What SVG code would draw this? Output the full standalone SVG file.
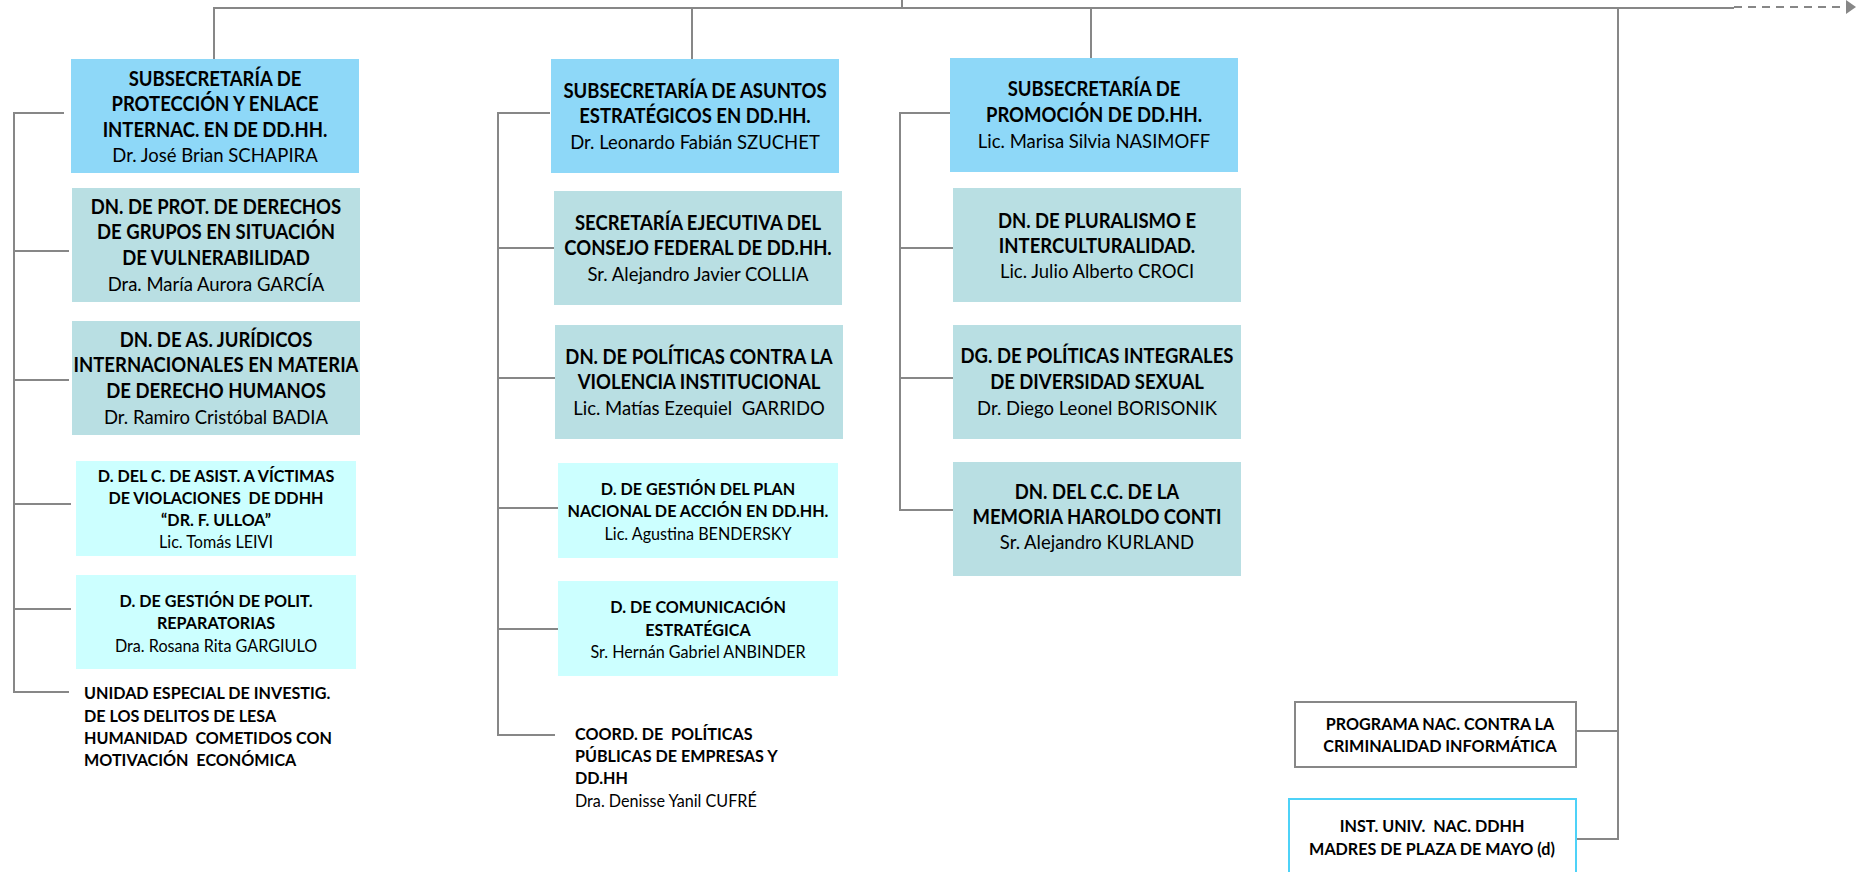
<svg xmlns="http://www.w3.org/2000/svg" width="1857" height="872" viewBox="0 0 1857 872">
<style>
.ln{stroke:#878787;stroke-width:2;fill:none}
.blue{fill:#8ED8F8}
.teal{fill:#B9DFE3}
.cyan{fill:#CCFFFF}
.wbox{fill:#FFFFFF;stroke:#878787;stroke-width:2}
.cbox{fill:#FFFFFF;stroke:#4DD2F8;stroke-width:2}
text{font-family:Lato,"Liberation Sans",sans-serif;fill:#000}
.c{text-anchor:middle}
.b{font-weight:bold}
.L{font-size:20px}
.S{font-size:17px}
</style>
<defs>
<marker id="arr" markerWidth="10" markerHeight="14" refX="9" refY="7" orient="auto" markerUnits="userSpaceOnUse">
<path d="M0,0 L10,7 L0,14 Z" fill="#878787"/>
</marker>
</defs>
<g id="connectors">
<line class="ln" x1="902" y1="0" x2="902" y2="8"/>
<line class="ln" x1="213" y1="8" x2="1734" y2="8"/>
<line class="ln" x1="1734" y1="7" x2="1855" y2="7" stroke-dasharray="8,6" marker-end="url(#arr)"/>
<line class="ln" x1="214" y1="8" x2="214" y2="59"/>
<line class="ln" x1="692" y1="8" x2="692" y2="59"/>
<line class="ln" x1="1091" y1="8" x2="1091" y2="58"/>
<polyline class="ln" points="1618,8 1618,839 1576,839"/>
<line class="ln" x1="1576" y1="731" x2="1618" y2="731"/>
<polyline class="ln" points="64,113 14,113 14,692 69,692"/>
<line class="ln" x1="14" y1="251" x2="69" y2="251"/>
<line class="ln" x1="14" y1="380" x2="69" y2="380"/>
<line class="ln" x1="14" y1="504" x2="71" y2="504"/>
<line class="ln" x1="14" y1="609" x2="71" y2="609"/>
<polyline class="ln" points="550,113 498,113 498,735 555,735"/>
<line class="ln" x1="498" y1="248" x2="554" y2="248"/>
<line class="ln" x1="498" y1="378" x2="555" y2="378"/>
<line class="ln" x1="498" y1="508" x2="558" y2="508"/>
<line class="ln" x1="498" y1="629" x2="558" y2="629"/>
<polyline class="ln" points="950,113 900,113 900,510 953,510"/>
<line class="ln" x1="900" y1="248" x2="953" y2="248"/>
<line class="ln" x1="900" y1="378" x2="953" y2="378"/>
</g>
<g id="n-sub-proteccion">
<rect class="blue" x="71" y="59" width="288" height="114"/>
<g transform="translate(215,0) scale(0.925,1)">
<text class="c b L" x="0" y="86">SUBSECRETARÍA DE</text>
<text class="c b L" x="0" y="111">PROTECCIÓN Y ENLACE</text>
<text class="c b L" x="0" y="137">INTERNAC. EN DE DD.HH.</text>
<text class="c L" x="0" y="162">Dr. José Brian SCHAPIRA</text>
</g>
</g>
<g id="n-dn-grupos">
<rect class="teal" x="72" y="188" width="288" height="114"/>
<g transform="translate(216,0) scale(0.925,1)">
<text class="c b L" x="0" y="214">DN. DE PROT. DE DERECHOS</text>
<text class="c b L" x="0" y="239">DE GRUPOS EN SITUACIÓN</text>
<text class="c b L" x="0" y="265">DE VULNERABILIDAD</text>
<text class="c L" x="0" y="291">Dra. María Aurora GARCÍA</text>
</g>
</g>
<g id="n-dn-juridicos">
<rect class="teal" x="72" y="321" width="288" height="114"/>
<g transform="translate(216,0) scale(0.925,1)">
<text class="c b L" x="0" y="347">DN. DE AS. JURÍDICOS</text>
<text class="c b L" x="0" y="372">INTERNACIONALES EN MATERIA</text>
<text class="c b L" x="0" y="398">DE DERECHO HUMANOS</text>
<text class="c L" x="0" y="424">Dr. Ramiro Cristóbal BADIA</text>
</g>
</g>
<g id="n-d-victimas">
<rect class="cyan" x="76" y="461" width="280" height="95"/>
<g transform="translate(216,0) scale(0.95,1)">
<text class="c b S" x="0" y="482">D. DEL C. DE ASIST. A VÍCTIMAS</text>
<text class="c b S" x="0" y="504" xml:space="preserve">DE VIOLACIONES  DE DDHH</text>
<text class="c b S" x="0" y="526">“DR. F. ULLOA”</text>
<text class="c S" x="0" y="548">Lic. Tomás LEIVI</text>
</g>
</g>
<g id="n-d-reparatorias">
<rect class="cyan" x="76" y="575" width="280" height="94"/>
<g transform="translate(216,0) scale(0.95,1)">
<text class="c b S" x="0" y="607">D. DE GESTIÓN DE POLIT.</text>
<text class="c b S" x="0" y="629">REPARATORIAS</text>
<text class="c S" x="0" y="652">Dra. Rosana Rita GARGIULO</text>
</g>
</g>
<g id="n-unidad">
<g transform="translate(84,0) scale(0.95,1)">
<text class="b S" x="0" y="699">UNIDAD ESPECIAL DE INVESTIG.</text>
<text class="b S" x="0" y="722">DE LOS DELITOS DE LESA</text>
<text class="b S" x="0" y="744" xml:space="preserve">HUMANIDAD  COMETIDOS CON</text>
<text class="b S" x="0" y="766" xml:space="preserve">MOTIVACIÓN  ECONÓMICA</text>
</g>
</g>
<g id="n-sub-asuntos">
<rect class="blue" x="551" y="59" width="288" height="114"/>
<g transform="translate(695,0) scale(0.925,1)">
<text class="c b L" x="0" y="98">SUBSECRETARÍA DE ASUNTOS</text>
<text class="c b L" x="0" y="123">ESTRATÉGICOS EN DD.HH.</text>
<text class="c L" x="0" y="149">Dr. Leonardo Fabián SZUCHET</text>
</g>
</g>
<g id="n-sec-ejecutiva">
<rect class="teal" x="554" y="191" width="288" height="114"/>
<g transform="translate(698,0) scale(0.925,1)">
<text class="c b L" x="0" y="230">SECRETARÍA EJECUTIVA DEL</text>
<text class="c b L" x="0" y="255">CONSEJO FEDERAL DE DD.HH.</text>
<text class="c L" x="0" y="281">Sr. Alejandro Javier COLLIA</text>
</g>
</g>
<g id="n-dn-violencia">
<rect class="teal" x="555" y="325" width="288" height="114"/>
<g transform="translate(699,0) scale(0.925,1)">
<text class="c b L" x="0" y="364">DN. DE POLÍTICAS CONTRA LA</text>
<text class="c b L" x="0" y="389">VIOLENCIA INSTITUCIONAL</text>
<text class="c L" x="0" y="415" xml:space="preserve">Lic. Matías Ezequiel  GARRIDO</text>
</g>
</g>
<g id="n-d-plan">
<rect class="cyan" x="558" y="463" width="280" height="95"/>
<g transform="translate(698,0) scale(0.95,1)">
<text class="c b S" x="0" y="495">D. DE GESTIÓN DEL PLAN</text>
<text class="c b S" x="0" y="517">NACIONAL DE ACCIÓN EN DD.HH.</text>
<text class="c S" x="0" y="540">Lic. Agustina BENDERSKY</text>
</g>
</g>
<g id="n-d-comunicacion">
<rect class="cyan" x="558" y="581" width="280" height="95"/>
<g transform="translate(698,0) scale(0.95,1)">
<text class="c b S" x="0" y="613">D. DE COMUNICACIÓN</text>
<text class="c b S" x="0" y="636">ESTRATÉGICA</text>
<text class="c S" x="0" y="658">Sr. Hernán Gabriel ANBINDER</text>
</g>
</g>
<g id="n-coord">
<g transform="translate(575,0) scale(0.95,1)">
<text class="b S" x="0" y="740" xml:space="preserve">COORD. DE  POLÍTICAS</text>
<text class="b S" x="0" y="762">PÚBLICAS DE EMPRESAS Y</text>
<text class="b S" x="0" y="784">DD.HH</text>
<text class="S" x="0" y="807">Dra. Denisse Yanil CUFRÉ</text>
</g>
</g>
<g id="n-sub-promocion">
<rect class="blue" x="950" y="58" width="288" height="114"/>
<g transform="translate(1094,0) scale(0.925,1)">
<text class="c b L" x="0" y="96">SUBSECRETARÍA DE</text>
<text class="c b L" x="0" y="122">PROMOCIÓN DE DD.HH.</text>
<text class="c L" x="0" y="148">Lic. Marisa Silvia NASIMOFF</text>
</g>
</g>
<g id="n-dn-pluralismo">
<rect class="teal" x="953" y="188" width="288" height="114"/>
<g transform="translate(1097,0) scale(0.925,1)">
<text class="c b L" x="0" y="228">DN. DE PLURALISMO E</text>
<text class="c b L" x="0" y="253">INTERCULTURALIDAD.</text>
<text class="c L" x="0" y="278">Lic. Julio Alberto CROCI</text>
</g>
</g>
<g id="n-dg-diversidad">
<rect class="teal" x="953" y="325" width="288" height="114"/>
<g transform="translate(1097,0) scale(0.925,1)">
<text class="c b L" x="0" y="363">DG. DE POLÍTICAS INTEGRALES</text>
<text class="c b L" x="0" y="389">DE DIVERSIDAD SEXUAL</text>
<text class="c L" x="0" y="415">Dr. Diego Leonel BORISONIK</text>
</g>
</g>
<g id="n-dn-conti">
<rect class="teal" x="953" y="462" width="288" height="114"/>
<g transform="translate(1097,0) scale(0.925,1)">
<text class="c b L" x="0" y="499">DN. DEL C.C. DE LA</text>
<text class="c b L" x="0" y="524">MEMORIA HAROLDO CONTI</text>
<text class="c L" x="0" y="549">Sr. Alejandro KURLAND</text>
</g>
</g>
<g id="n-programa">
<rect class="wbox" x="1295" y="702" width="281" height="65"/>
<g transform="translate(1440,0) scale(0.95,1)">
<text class="c b S" x="0" y="730">PROGRAMA NAC. CONTRA LA</text>
<text class="c b S" x="0" y="752">CRIMINALIDAD INFORMÁTICA</text>
</g>
</g>
<g id="n-inst">
<rect class="cbox" x="1289" y="799" width="287" height="80"/>
<g transform="translate(1432,0) scale(0.95,1)">
<text class="c b S" x="0" y="832" xml:space="preserve">INST. UNIV.  NAC. DDHH</text>
<text class="c b S" x="0" y="855">MADRES DE PLAZA DE MAYO (d)</text>
</g>
</g>
</svg>
